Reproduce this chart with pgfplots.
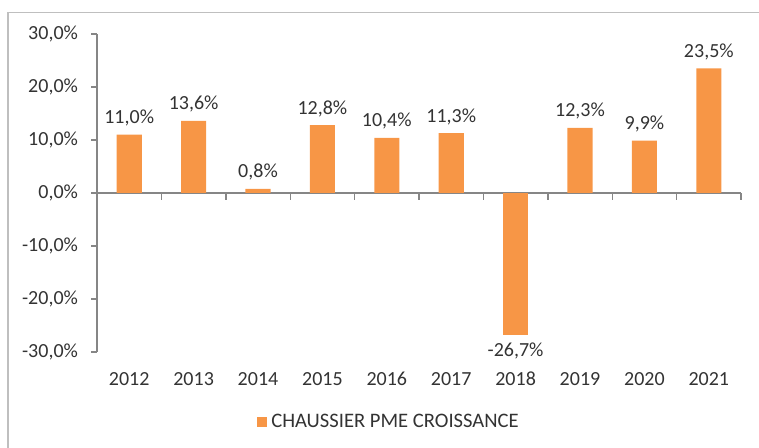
\documentclass[border=0pt]{standalone}
\usepackage{pgfplots}
\pgfplotsset{compat=1.18}
\usepackage{fontspec}
\setmainfont{Carlito}
\definecolor{barorange}{HTML}{F79646}
\definecolor{txt}{HTML}{333333}
\definecolor{axisgray}{HTML}{868686}
\definecolor{framegray}{HTML}{BFBFBF}
\begin{document}
\begin{tikzpicture}[font=\fontsize{10}{12}\selectfont]
\useasboundingbox (0,0) rectangle (379.5pt,224pt);
\draw[framegray, line width=0.8pt] (4pt,-2pt) -- (4pt,217.7pt) -- (381pt,217.7pt);
\begin{axis}[
  at={(48.5pt,48pt)},
  scale only axis, width=322pt, height=159pt,
  anchor=south west,
  xmin=-0.5, xmax=9.5, ymin=-30, ymax=30,
  axis x line=middle, axis y line=left,
  axis line style={axisgray, line width=0.7pt, -},
  every tick/.style={axisgray, line width=0.7pt},
  xtick={0,...,9},
  xticklabels={2012,2013,2014,2015,2016,2017,2018,2019,2020,2021},
  major x tick style={draw=none},
  minor xtick={-0.5,0.5,...,9.5},
  minor tick length=3.5pt,
  x tick label style={yshift=-83pt, text=txt},
  ytick={-30,-20,...,30},
  yticklabels={{-30,0\%},{-20,0\%},{-10,0\%},{0,0\%},{10,0\%},{20,0\%},{30,0\%}},
  y tick label style={text=txt, xshift=-3pt},
  major tick length=3pt,
  tick align=outside,
  y tick style={axisgray},
  clip=false,
  legend style={draw=none, fill=none, at={(0.455,-0.22)}, anchor=center, font=\fontsize{10.3}{12}\selectfont, text=txt, legend cell align=left},
  legend image code/.code={\fill[barorange] (0pt,-2.5pt) rectangle (5pt,2.5pt);},
]
\addplot[ybar, bar width=0.39, fill=barorange, draw=none,
  point meta=explicit symbolic,
  nodes near coords, every node near coord/.append style={text=txt, font=\fontsize{10}{12}\selectfont, inner sep=4pt, anchor=south}]
coordinates {
(0,11.0) [11,0\%]
(1,13.6) [13,6\%]
(2,0.8) [0,8\%]
(3,12.8) [12,8\%]
(4,10.4) [10,4\%]
(5,11.3) [11,3\%]
(7,12.3) [12,3\%]
(8,9.9) [9,9\%]
(9,23.5) [23,5\%]
};
\addlegendentry{CHAUSSIER PME CROISSANCE}
\addplot[ybar, bar width=0.39, fill=barorange, draw=none, forget plot,
  point meta=explicit symbolic,
  nodes near coords, every node near coord/.append style={text=txt, font=\fontsize{10}{12}\selectfont, inner sep=4pt, anchor=north}]
coordinates {
(6,-26.7) [-26,7\%]
};
\end{axis}
\end{tikzpicture}
\end{document}
